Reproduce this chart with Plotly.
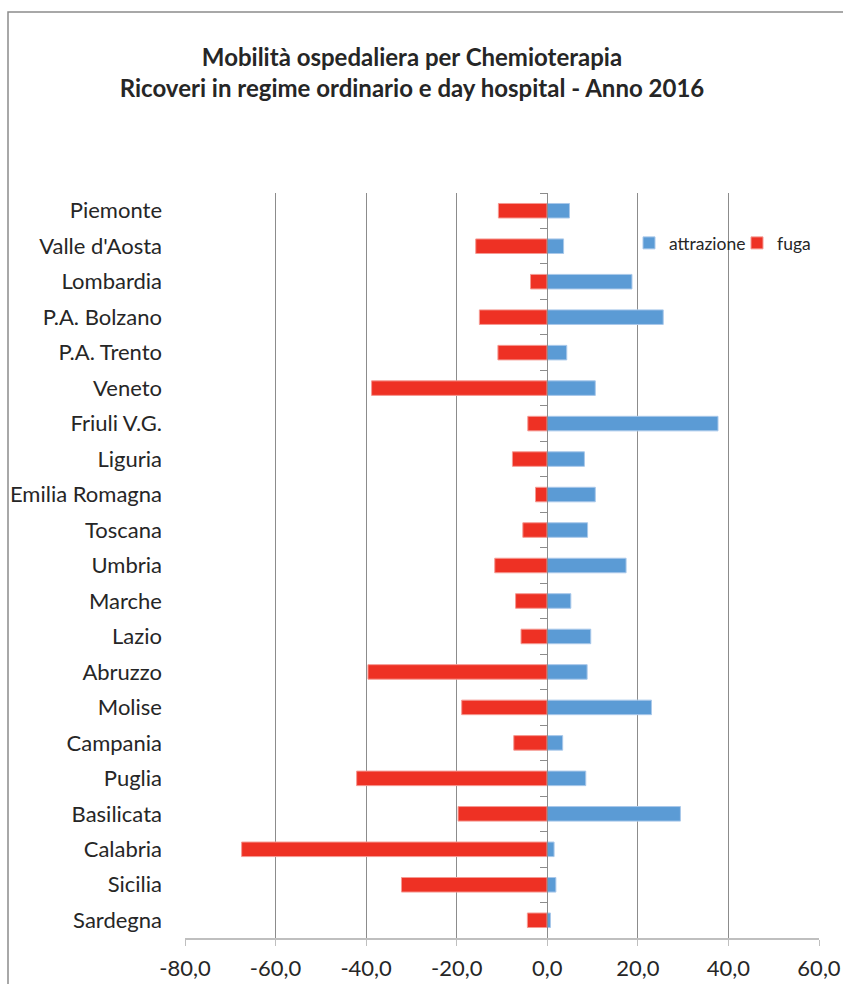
import plotly.graph_objects as go

# Regional hospital mobility for chemotherapy, 2016 (index values)
regioni = [
    "Piemonte", "Valle d'Aosta", "Lombardia", "P.A. Bolzano", "P.A. Trento",
    "Veneto", "Friuli V.G.", "Liguria", "Emilia Romagna", "Toscana",
    "Umbria", "Marche", "Lazio", "Abruzzo", "Molise", "Campania",
    "Puglia", "Basilicata", "Calabria", "Sicilia", "Sardegna",
]
attrazione = [4.9, 3.6, 18.7, 25.6, 4.3, 10.6, 37.7, 8.2, 10.6, 8.9,
              17.4, 5.2, 9.6, 8.8, 23.0, 3.4, 8.5, 29.4, 1.5, 1.9, 0.7]
fuga = [-10.8, -15.8, -3.7, -15.0, -10.9, -38.8, -4.3, -7.7, -2.6, -5.4,
        -11.6, -7.0, -5.8, -39.6, -18.9, -7.4, -42.1, -19.7, -67.5, -32.2, -4.4]
x_ticks = [-80, -60, -40, -20, 0, 20, 40, 60]
# Italian number format with a plain hyphen for negatives
x_labels = [f"{v:.1f}".replace(".", ",") for v in x_ticks]

FONT = "Lato"
TEXT = "#262626"
BLUE = "#5B9BD5"
RED = "#EE3124"

W, H = 843, 984
L, R, T, B = 185, 24, 193, 46
pw, ph = W - L - R, H - T - B
xmin, xmax = x_ticks[0], x_ticks[-1]


def px_x(px):
    return (px - L) / pw


def px_y(py):
    return (H - B - py) / ph


fig = go.Figure()
fig.add_trace(go.Bar(
    y=regioni, x=attrazione, orientation="h", name="attrazione",
    marker=dict(color=BLUE, line=dict(color="#A9C8EA", width=1)),
    yaxis="y2",
))
fig.add_trace(go.Bar(
    y=regioni, x=fuga, orientation="h", name="fuga",
    marker=dict(color=RED, line=dict(color="#F59A93", width=1)),
))

cat_range = [len(regioni) - 0.5, -0.5]

fig.update_layout(
    width=W, height=H,
    margin=dict(l=L, r=R, t=T, b=B, pad=0, autoexpand=False),
    paper_bgcolor="white", plot_bgcolor="white",
    barmode="relative", bargap=0.59,
    font=dict(family=FONT, color=TEXT, size=22),
    title=dict(
        text="<b>Mobilità ospedaliera per Chemioterapia<br>"
             "Ricoveri in regime ordinario e day hospital - Anno 2016</b>",
        x=412 / W, xanchor="center",
        y=1 - 65.5 / H, yanchor="middle",
        font=dict(family=FONT, size=24, color=TEXT),
    ),
    xaxis=dict(
        range=[xmin, xmax], tickvals=x_ticks, ticktext=x_labels,
        automargin=False,
        showgrid=True, gridcolor="#8C8C8C", gridwidth=1,
        zeroline=False,
        showline=True, linecolor="#BFBFBF", linewidth=2,
        ticks="outside", ticklen=6, tickcolor="#BFBFBF",
        ticklabelstandoff=4,
        tickfont=dict(size=22, color=TEXT),
    ),
    yaxis=dict(
        type="category", categoryorder="array", categoryarray=regioni,
        range=cat_range, automargin=False,
        showgrid=False, zeroline=False,
        showline=False, ticks="", ticklabelstandoff=22,
        tickfont=dict(size=22, color=TEXT),
    ),
    yaxis2=dict(
        type="category", categoryorder="array", categoryarray=regioni,
        range=cat_range, overlaying="y", anchor="free", automargin=False,
        position=(0 - xmin) / (xmax - xmin), side="left",
        showgrid=False, zeroline=False, showticklabels=False,
        showline=True, linecolor="#8C8C8C", linewidth=1,
        ticks="outside", ticklen=7, tickcolor="#8C8C8C",
        tickson="boundaries",
    ),
    legend=dict(
        orientation="h", x=px_x(629), y=px_y(243),
        xanchor="left", yanchor="middle",
        bgcolor="rgba(0,0,0,0)", font=dict(size=17.5, color=TEXT),
        itemwidth=30, traceorder="normal",
        entrywidth=63, entrywidthmode="pixels",
    ),
    showlegend=True,
)

# White panel behind the legend hides the gridlines in that corner
fig.add_shape(
    type="rect", xref="x", yref="paper",
    x0=19.2, x1=58.6, y0=px_y(300), y1=1.0,
    fillcolor="white", line=dict(width=0), layer="between",
)

# Outer chart frame
fig.add_shape(
    type="rect", xref="paper", yref="paper",
    x0=px_x(8), x1=px_x(870), y0=px_y(1000), y1=px_y(12),
    line=dict(color="#8C8C8C", width=1.5), fillcolor="rgba(0,0,0,0)",
    layer="above",
)

fig.write_html("out.html")
